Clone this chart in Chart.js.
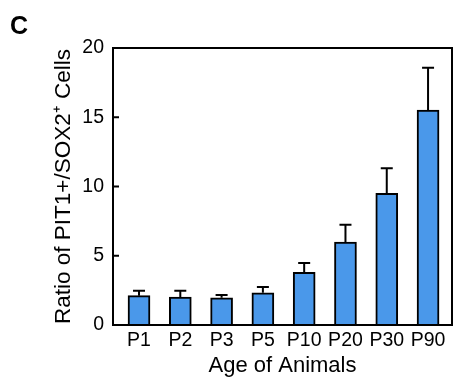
<!DOCTYPE html>
<html>
<head>
<meta charset="utf-8">
<script src="https://cdn.jsdelivr.net/npm/chart.js@4.4.1/dist/chart.umd.min.js"></script>
<style>
html,body{margin:0;padding:0;background:#fff;}
#wrap{width:453px;height:383px;position:relative;}
</style>
</head>
<body>
<div id="wrap"><canvas id="c" width="453" height="383"></canvas></div>
<script>
// Data
const categories = ['P1', 'P2', 'P3', 'P5', 'P10', 'P20', 'P30', 'P90'];
const meanRatio = [2.12, 2.02, 1.97, 2.33, 3.80, 5.99, 9.51, 15.52];
const errorSize = [0.36, 0.46, 0.20, 0.41, 0.68, 1.25, 1.80, 3.06];
const yTicks = [0, 5, 10, 15, 20];
const panelLetter = 'C';

const FONT = "'Liberation Sans', Arial, Helvetica, sans-serif";

const framePlugin = {
  id: 'frameAndErrors',
  afterDatasetsDraw(chart) {
    const ctx = chart.ctx;
    const xs = chart.scales.x, ys = chart.scales.y;
    const a = chart.chartArea;
    ctx.save();
    ctx.strokeStyle = '#000';
    ctx.lineWidth = 2;
    // upper error bars
    meanRatio.forEach((m, i) => {
      const x = xs.getPixelForValue(i);
      const y0 = ys.getPixelForValue(m);
      const y1 = ys.getPixelForValue(m + errorSize[i]);
      ctx.beginPath();
      ctx.moveTo(x, y0);
      ctx.lineTo(x, y1);
      ctx.moveTo(x - 6, y1);
      ctx.lineTo(x + 6, y1);
      ctx.stroke();
    });
    // frame
    ctx.strokeRect(a.left, a.top, a.right - a.left, a.bottom - a.top);
    // inward y ticks
    yTicks.forEach(v => {
      const y = ys.getPixelForValue(v);
      ctx.beginPath();
      ctx.moveTo(a.left, y);
      ctx.lineTo(a.left + 6, y);
      ctx.stroke();
    });
    ctx.restore();
  },
  afterDraw(chart) {
    const ctx = chart.ctx;
    ctx.save();
    ctx.fillStyle = '#000';
    ctx.font = "bold 25px " + FONT;
    ctx.textBaseline = 'alphabetic';
    ctx.textAlign = 'left';
    ctx.fillText(panelLetter, 10, 34);
    ctx.restore();
  }
};

new Chart(document.getElementById('c'), {
  type: 'bar',
  data: {
    datasets: [{
      data: categories.map((c, i) => ({ x: i, y: meanRatio[i] })),
      backgroundColor: '#4A98EA',
      borderColor: '#000',
      borderWidth: 2,
      borderSkipped: 'bottom',
      barThickness: 22
    }]
  },
  options: {
    responsive: false,
    animation: false,
    devicePixelRatio: 1,
    layout: { padding: { left: 0, right: 1, top: 48, bottom: 0 } },
    plugins: { legend: { display: false }, tooltip: { enabled: false } },
    scales: {
      x: {
        type: 'linear',
        offset: false,
        min: -0.63,
        max: 7.58,
        grid: { display: false, drawTicks: false, offset: false },
        border: { display: false },
        afterBuildTicks(scale) { scale.ticks = categories.map((c, i) => ({ value: i })); },
        afterFit(scale) { scale.height = 58; scale.paddingLeft = 0; scale.paddingRight = 0; },
        ticks: {
          autoSkip: false,
          maxRotation: 0,
          padding: 4,
          color: '#000',
          font: { family: FONT, size: 19.5 },
          callback: (v) => categories[v]
        },
        title: {
          display: true,
          text: 'Age of Animals',
          color: '#000',
          font: { family: FONT, size: 22 },
          padding: { top: 0, bottom: 4 }
        }
      },
      y: {
        min: 0,
        max: 20,
        grid: { display: false, drawTicks: false },
        border: { display: false },
        afterBuildTicks(scale) { scale.ticks = yTicks.map(v => ({ value: v })); },
        afterFit(scale) { scale.width = 113; scale.paddingTop = 0; scale.paddingBottom = 0; },
        ticks: {
          padding: 9,
          color: '#000',
          font: { family: FONT, size: 19.5 }
        },
        title: {
          display: true,
          text: 'Ratio of PIT1+/SOX2\u207A Cells',
          color: '#000',
          font: { family: FONT, size: 22.5 },
          padding: { top: 50, bottom: 0 }
        }
      }
    }
  },
  plugins: [framePlugin]
});
</script>
</body>
</html>
